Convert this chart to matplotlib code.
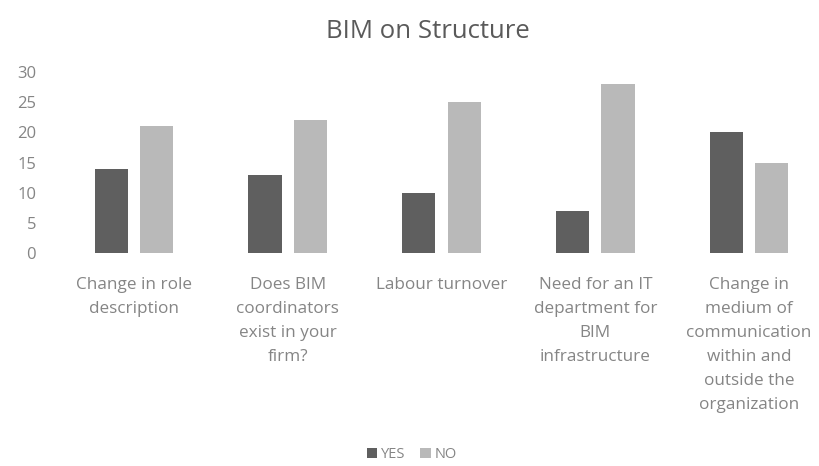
import numpy as np
import matplotlib.pyplot as plt

# data
categories = ["Change in role\ndescription",
              "Does BIM\ncoordinators\nexist in your\nfirm?",
              "Labour turnover",
              "Need for an IT\ndepartment for\nBIM\ninfrastructure",
              "Change in\nmedium of\ncommunication\nwithin and\noutside the\norganization"]
yes = [14, 13, 10, 7, 20]
no = [21, 22, 25, 28, 15]
yticks = [0, 5, 10, 15, 20, 25, 30]

plt.rcParams['font.family'] = ['Open Sans', 'DejaVu Sans']
text_col = '#858585'

fig = plt.figure(figsize=(8.19, 4.66), dpi=100)
ax = fig.add_axes([57/819, 0.457, 769/819, 0.388])

x = np.arange(len(categories))
w = 0.215
gap = 0.08
ax.bar(x - w/2 - gap/2, yes, width=w, color='#5f5f5f', label='YES')
ax.bar(x + w/2 + gap/2, no, width=w, color='#b9b9b9', label='NO')

ax.set_xlim(-0.5, 4.5)
ax.set_ylim(0, 30)
ax.set_yticks(yticks)
ax.set_xticks(x)
ax.set_xticklabels(categories, linespacing=1.67)
ax.tick_params(axis='y', length=0, pad=15, labelsize=12, labelcolor=text_col)
ax.tick_params(axis='x', length=0, pad=17, labelsize=12.3, labelcolor=text_col)
for lab in ax.get_xticklabels():
    lab.set_verticalalignment('top')
for s in ax.spines.values():
    s.set_visible(False)

fig.suptitle('BIM on Structure', x=0.522, y=0.96, fontsize=18.5, color='#5a5a5a')

fig.legend(loc='center', bbox_to_anchor=(0.503, 0.024), ncol=2, frameon=False,
           fontsize=10.5, labelcolor=text_col, handlelength=0.7, handleheight=0.7,
           handletextpad=0.3, columnspacing=1.0)

fig.savefig('out.png', dpi=100, facecolor='white')
